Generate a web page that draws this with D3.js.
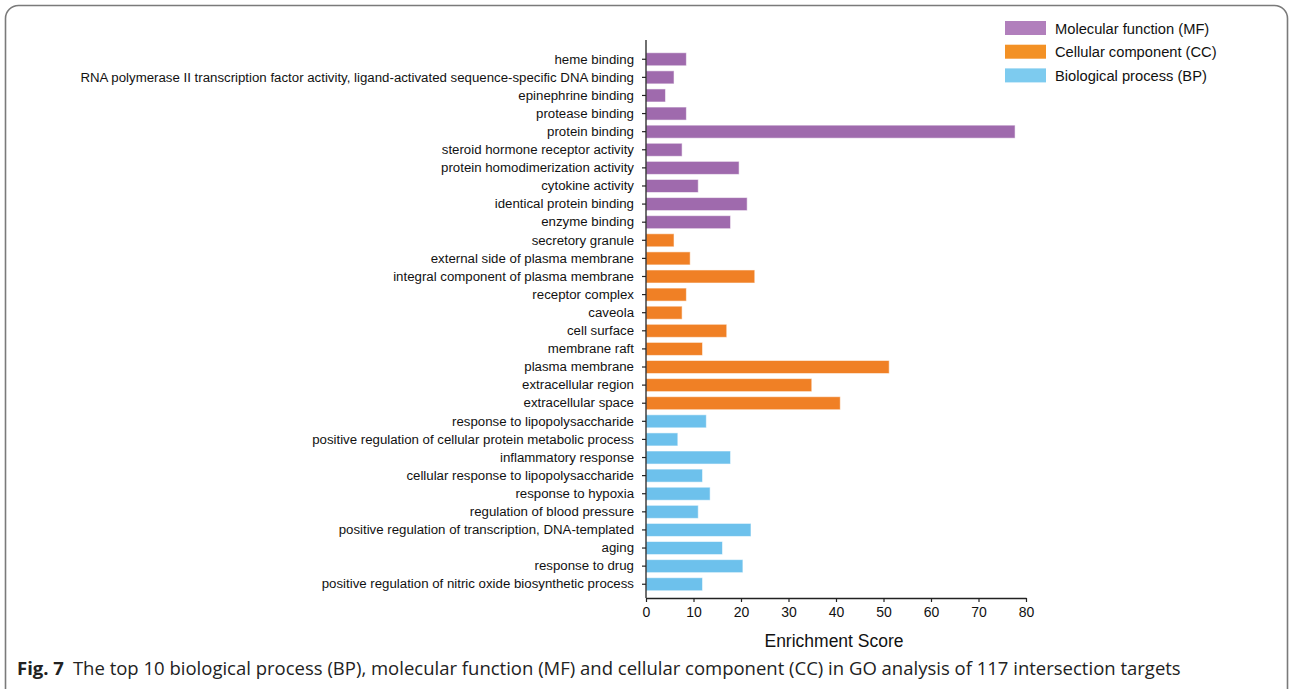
<!DOCTYPE html>
<html>
<head>
<meta charset="utf-8">
<script src="https://cdn.jsdelivr.net/npm/d3@7"></script>
<style>
  body { margin: 0; background: #fff; }
  svg { display: block; }
</style>
</head>
<body>
<svg id="chart" width="1290" height="689"></svg>
<script>
// values, top to bottom
const mfTerms = [
    'heme binding',
    'RNA polymerase II transcription factor activity, ligand-activated sequence-specific DNA binding',
    'epinephrine binding',
    'protease binding',
    'protein binding',
    'steroid hormone receptor activity',
    'protein homodimerization activity',
    'cytokine activity',
    'identical protein binding',
    'enzyme binding'
]
const mfScores = [8.5, 5.9, 4.1, 8.5, 77.7, 7.6, 19.6, 11.0, 21.3, 17.8]

const ccTerms = [
    'secretory granule',
    'external side of plasma membrane',
    'integral component of plasma membrane',
    'receptor complex',
    'caveola',
    'cell surface',
    'membrane raft',
    'plasma membrane',
    'extracellular region',
    'extracellular space'
]
const ccScores = [5.9, 9.3, 22.9, 8.5, 7.6, 17.0, 11.9, 51.2, 34.9, 40.9]

const bpTerms = [
    'response to lipopolysaccharide',
    'positive regulation of cellular protein metabolic process',
    'inflammatory response',
    'cellular response to lipopolysaccharide',
    'response to hypoxia',
    'regulation of blood pressure',
    'positive regulation of transcription, DNA-templated',
    'aging',
    'response to drug',
    'positive regulation of nitric oxide biosynthetic process'
]
const bpScores = [12.7, 6.7, 17.8, 11.9, 13.5, 11.0, 22.1, 16.1, 20.4, 11.9]

const groups = ['Molecular function (MF)', 'Cellular component (CC)', 'Biological process (BP)']
const xTicks = [0, 10, 20, 30, 40, 50, 60, 70, 80]

const barColors = {MF: '#9f6aad', CC: '#f08025', BP: '#6dc1ec'}
const legendColors = ['#b17fbc', '#f39125', '#7dcbef']

const rows = [
    ...mfTerms.map((t, i) => ({term: t, score: mfScores[i], cat: 'MF'})),
    ...ccTerms.map((t, i) => ({term: t, score: ccScores[i], cat: 'CC'})),
    ...bpTerms.map((t, i) => ({term: t, score: bpScores[i], cat: 'BP'}))
]

const svg = d3.select('#chart')
const font = '"Liberation Sans", Arial, sans-serif'

// rounded frame of the figure panel
svg.append('rect')
    .attr('x', 5.5).attr('y', 5.5)
    .attr('width', 1282).attr('height', 700)
    .attr('rx', 13)
    .attr('fill', 'none')
    .attr('stroke', '#7a7a7a')
    .attr('stroke-width', 1.6)

const xScale = d3.scaleLinear().domain([0, 80]).range([646, 1026])
const yScale = d3.scaleBand()
    .domain(rows.map(d => d.term))
    .range([45.5, 598])
    .paddingInner(0.28)
    .paddingOuter(0.4)

svg.append('g')
    .selectAll('rect')
    .data(rows)
    .enter()
    .append('rect')
    .attr('x', xScale(0))
    .attr('y', d => yScale(d.term))
    .attr('width', d => xScale(d.score) - xScale(0))
    .attr('height', yScale.bandwidth())
    .attr('fill', d => barColors[d.cat])
    .attr('stroke', '#ffffff')
    .attr('stroke-opacity', 0.55)
    .attr('stroke-width', 1)

// y axis
const yAxisG = svg.append('g')
    .attr('transform', `translate(${xScale(0)},0)`)
    .call(d3.axisLeft(yScale).tickSize(4).tickSizeOuter(0).tickPadding(8))
yAxisG.select('.domain').remove()
yAxisG.append('line')
    .attr('y1', 40).attr('y2', 598)
    .attr('stroke', '#222').attr('stroke-width', 1.3)
yAxisG.selectAll('.tick line').attr('stroke', '#222').attr('stroke-width', 1.2)
yAxisG.selectAll('.tick text')
    .attr('fill', '#111')
    .style('font-family', font)
    .style('font-size', '13.25px')

// x axis
const xAxisG = svg.append('g')
    .attr('transform', 'translate(0,598)')
    .call(d3.axisBottom(xScale).tickValues(xTicks).tickSize(4).tickSizeOuter(0).tickPadding(5))
xAxisG.select('.domain').attr('stroke', '#222').attr('stroke-width', 1.3)
xAxisG.selectAll('.tick line').attr('stroke', '#222').attr('stroke-width', 1.2)
xAxisG.selectAll('.tick text')
    .attr('fill', '#111')
    .style('font-family', font)
    .style('font-size', '14px')

svg.append('text')
    .attr('x', 834)
    .attr('y', 647)
    .attr('text-anchor', 'middle')
    .style('font-family', font)
    .style('font-size', '17.5px')
    .attr('fill', '#111')
    .text('Enrichment Score')

// legend
const legend = svg.append('g').attr('transform', 'translate(1005,21)')
groups.forEach((g, i) => {
    const row = legend.append('g').attr('transform', `translate(0,${i * 23.7})`)
    row.append('rect')
        .attr('width', 41).attr('height', 14)
        .attr('fill', legendColors[i])
    row.append('text')
        .attr('x', 50).attr('y', 12.5)
        .style('font-family', font)
        .style('font-size', '14.7px')
        .attr('fill', '#111')
        .text(g)
})

// caption
const caption = svg.append('text')
    .attr('x', 17).attr('y', 675)
    .style('font-family', '"Open Sans", "Noto Sans", sans-serif')
    .style('font-size', '18.5px')
    .attr('fill', '#222')
caption.append('tspan').style('font-weight', 'bold').text('Fig. 7')
caption.append('tspan').attr('dx', 9)
    .text('The top 10 biological process (BP), molecular function (MF) and cellular component (CC) in GO analysis of 117 intersection targets')
// squeeze to the width used in the figure
const capW = caption.node().getComputedTextLength()
if (capW > 1161) caption.attr('textLength', 1161).attr('lengthAdjust', 'spacingAndGlyphs')
</script>
</body>
</html>
